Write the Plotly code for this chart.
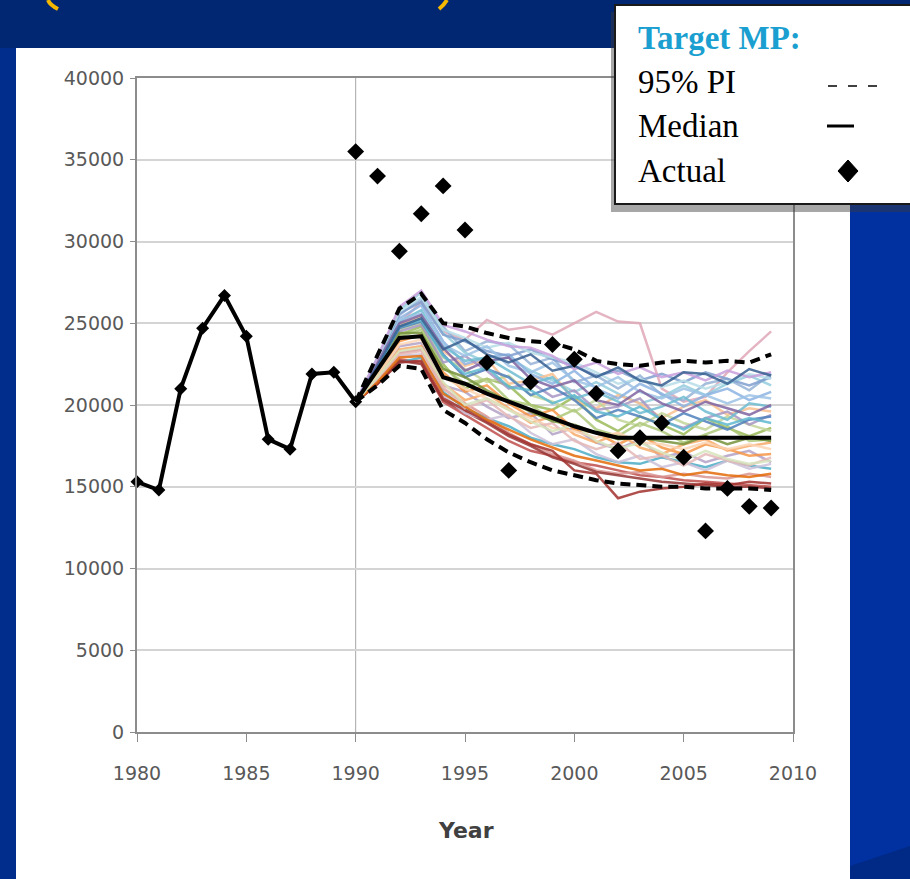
import plotly.graph_objects as go

# ---------------- data ----------------
hist_years = list(range(1980, 1991))
hist_values = [15300, 14800, 21000, 24700, 26700, 24200, 17900, 17300, 21900, 22000, 20200]

proj_years = list(range(1990, 2010))
actual_values = [35500, 34000, 29400, 31700, 33400, 30700, 22600, 16000, 21400, 23700,
                 22800, 20700, 17200, 18000, 18900, 16800, 12300, 14900, 13800, 13700]
median_values = [20200, 22200, 24100, 24200, 21700, 21300, 20700, 20200, 19700, 19200,
                 18700, 18300, 18000, 18000, 18000, 18000, 18000, 18000, 18000, 18000]
upper_pi = [20200, 23000, 25900, 26800, 25000, 24800, 24400, 24100, 23900, 23800,
            23400, 22700, 22500, 22400, 22600, 22700, 22600, 22700, 22600, 23100]
lower_pi = [20200, 21200, 22400, 22200, 19700, 18900, 17900, 17100, 16500, 16000,
            15700, 15400, 15200, 15100, 15000, 15000, 14900, 14900, 14900, 14800]

sim_1 = [20180, 22600, 25000, 26300, 24500, 24000, 25200, 24600, 24800, 24300, 25000, 25700, 25100, 25000, 21000, 20200, 20500, 22000, 23300, 24500]
sim_2 = [20180, 22500, 25500, 26500, 24800, 23300, 23900, 23700, 22500, 22900, 21400, 21800, 21000, 21800, 20600, 20300, 21300, 21600, 20900, 21900]
sim_3 = [20180, 21500, 22800, 22600, 20200, 19400, 18600, 17800, 17200, 16900, 16500, 16300, 16000, 15700, 15600, 15400, 15300, 15200, 15100, 15000]
sim_4 = [20180, 22000, 24300, 24800, 22500, 21000, 21600, 21200, 20000, 19700, 20500, 19100, 18400, 19300, 18800, 18200, 19200, 18600, 18100, 18600]
sim_5 = [20180, 21800, 23600, 23800, 21200, 20800, 19900, 19200, 19500, 18200, 18600, 17700, 17300, 17900, 16800, 17100, 16500, 16900, 17200, 16500]
sim_6 = [20180, 22900, 25800, 26900, 24400, 23200, 22600, 22900, 22100, 21500, 20800, 21400, 20700, 20100, 20500, 21200, 20600, 21300, 21800, 21200]
sim_7 = [20180, 22300, 24900, 25400, 23300, 22400, 22800, 21300, 21500, 21900, 20300, 19800, 20600, 20100, 19200, 19900, 20300, 19400, 19800, 19600]
sim_8 = [20180, 21400, 22600, 22900, 20800, 19800, 19200, 18700, 18000, 17600, 17300, 16800, 16500, 16400, 16800, 16500, 16200, 16600, 16300, 16100]
sim_9 = [20180, 22600, 25300, 26100, 23900, 22500, 22900, 23100, 21900, 21300, 22100, 21000, 20400, 21300, 20700, 19900, 20600, 21000, 20300, 20800]
sim_10 = [20180, 21900, 23900, 24300, 22000, 20800, 21200, 20100, 19300, 19700, 18500, 18300, 17600, 18200, 17400, 17000, 17600, 17300, 16900, 17000]
sim_11 = [20180, 22100, 24600, 25000, 22900, 22200, 21400, 21800, 20600, 20200, 19600, 20300, 19100, 18700, 19500, 18900, 18500, 19300, 18800, 18400]
sim_12 = [20180, 21600, 23200, 23400, 21000, 20100, 19300, 18300, 17600, 17000, 16600, 16000, 15800, 15900, 15600, 15800, 15600, 15500, 15800, 15600]
sim_13 = [20180, 22700, 25600, 26300, 24300, 23900, 23300, 23000, 23400, 22800, 22400, 21800, 22100, 21500, 21900, 21400, 22000, 21600, 21200, 21700]
sim_14 = [20180, 22200, 24500, 24900, 22600, 23000, 22100, 21000, 21400, 20500, 20900, 19700, 19900, 20400, 19000, 18600, 19200, 19600, 18800, 19400]
sim_15 = [20180, 21300, 22700, 22500, 20300, 19600, 18900, 18100, 17500, 16800, 16400, 15900, 15700, 15500, 15300, 15200, 15100, 15000, 15000, 14900]
sim_16 = [20180, 22400, 25100, 25800, 23600, 22700, 22900, 22100, 21300, 21700, 20400, 20800, 20200, 19500, 19900, 20500, 19600, 19100, 20100, 19900]
sim_17 = [20180, 21700, 23400, 23600, 21300, 20300, 20700, 19800, 18900, 19300, 18200, 17700, 18300, 17400, 17000, 17600, 17900, 17200, 17500, 17700]
sim_18 = [20180, 22000, 24200, 24600, 22300, 21300, 21600, 20300, 20000, 19100, 19700, 18500, 18100, 18900, 18400, 17700, 18200, 18700, 17800, 17900]
sim_19 = [20180, 21500, 23000, 23100, 20600, 19500, 19100, 19400, 18300, 17600, 17900, 17000, 16500, 16900, 16200, 16500, 16000, 16600, 16100, 16400]
sim_20 = [20180, 21300, 22600, 22700, 20400, 19700, 19000, 18200, 17600, 17200, 16000, 15800, 14300, 14700, 14900, 15000, 15200, 15100, 15300, 15200]
sim_21 = [20180, 22800, 25700, 26600, 24600, 24100, 23500, 23800, 23200, 22900, 22600, 22000, 21300, 21600, 21100, 21500, 21000, 21400, 21900, 21600]
sim_22 = [20180, 22300, 24700, 25100, 23100, 21700, 22200, 21700, 20600, 21100, 20300, 19200, 19700, 19300, 18800, 19500, 19000, 18500, 19100, 19300]
sim_23 = [20180, 21800, 23700, 24000, 21700, 21000, 20400, 19700, 19200, 18600, 18400, 18000, 18300, 17700, 17600, 17300, 17700, 17300, 17600, 17300]
sim_24 = [20180, 22500, 25200, 25600, 23700, 23000, 23600, 22400, 22000, 22600, 21500, 21100, 21700, 20800, 20400, 21000, 20600, 20100, 20600, 20400]
sim_25 = [20180, 21600, 23100, 23300, 21100, 19800, 20300, 19300, 18600, 18900, 17800, 17300, 17700, 16700, 16900, 16300, 17000, 16600, 16300, 16800]
sim_26 = [20180, 22600, 25000, 25500, 23500, 22100, 22700, 22900, 21600, 21100, 21500, 20300, 20000, 20900, 20100, 19600, 20200, 19800, 19400, 20000]
sim_27 = [20180, 22100, 24400, 24400, 22200, 21700, 20900, 20200, 19600, 19000, 18800, 18300, 17900, 18000, 17800, 17600, 18100, 17600, 18000, 17800]
sim_28 = [20180, 21400, 22900, 23000, 20700, 19900, 19100, 18500, 17900, 17400, 16900, 16600, 16300, 16000, 16100, 15700, 15900, 15700, 15600, 15800]
sim_29 = [20180, 22900, 26000, 27000, 24900, 24500, 24000, 23600, 23500, 23000, 22200, 22600, 21900, 22300, 21700, 22000, 21500, 22100, 21700, 22000]
sim_30 = [20180, 22200, 24800, 25200, 23000, 21900, 22300, 21100, 20900, 20100, 20600, 19600, 19300, 19900, 19100, 18500, 19200, 18800, 19200, 18900]
sim_31 = [20180, 21700, 23300, 23500, 21400, 20000, 20400, 19700, 19000, 18400, 18800, 17800, 17300, 17700, 17100, 16600, 17200, 16700, 16400, 16600]
sim_32 = [20180, 22400, 24800, 25300, 23400, 24000, 23100, 22600, 23100, 22100, 22400, 21700, 22300, 21500, 21200, 22000, 21900, 21300, 22200, 21800]

simulations = [sim_1, sim_2, sim_3, sim_4, sim_5, sim_6, sim_7, sim_8, sim_9, sim_10,
               sim_11, sim_12, sim_13, sim_14, sim_15, sim_16, sim_17, sim_18, sim_19, sim_20,
               sim_21, sim_22, sim_23, sim_24, sim_25, sim_26, sim_27, sim_28, sim_29, sim_30,
               sim_31, sim_32]

sim_colors = ["#e0a8b8", "#95b3d7", "#c0504d", "#9bbb59", "#b3a2c7", "#93cddd",
              "#fac090", "#4bacc6", "#8db3e2", "#f79646", "#c3d69b", "#d99694",
              "#7f9fcf", "#a796c4", "#953735", "#6fbdd1", "#f9ab6b", "#afc97a",
              "#ccc1da", "#a3322f", "#b7dee8", "#4f81bd", "#fcd5b5", "#9dc3e6",
              "#e6b9b8", "#8064a2", "#77933c", "#e46c0a", "#c9a0dc", "#5fb8cf",
              "#d7e4bd", "#376092"]

x_ticks = [1980, 1985, 1990, 1995, 2000, 2005, 2010]
y_ticks = [0, 5000, 10000, 15000, 20000, 25000, 30000, 35000, 40000]

# ---------------- figure ----------------
W, H = 910, 879
L, R, T, B = 137, 117, 78, 147
PW, PH = W - L - R, H - T - B


def px(xp):
    return (xp - L) / PW


def py(yp):
    return (H - B - yp) / PH


fig = go.Figure()

fig.add_trace(go.Scatter(x=hist_years, y=hist_values, mode="lines+markers",
                         line=dict(color="black", width=4),
                         marker=dict(symbol="diamond", size=10, color="black"),
                         cliponaxis=False, showlegend=False))

for vals, col in zip(simulations, sim_colors):
    fig.add_trace(go.Scatter(x=proj_years, y=vals, mode="lines",
                             line=dict(color=col, width=2.5), opacity=0.85,
                             showlegend=False))

fig.add_trace(go.Scatter(x=proj_years, y=upper_pi, mode="lines",
                         line=dict(color="black", width=4, dash="10px,6px"), showlegend=False))
fig.add_trace(go.Scatter(x=proj_years, y=lower_pi, mode="lines",
                         line=dict(color="black", width=4, dash="10px,6px"), showlegend=False))
fig.add_trace(go.Scatter(x=proj_years, y=median_values, mode="lines",
                         line=dict(color="black", width=4), showlegend=False))
fig.add_trace(go.Scatter(x=proj_years, y=actual_values, mode="markers",
                         marker=dict(symbol="diamond", size=13, color="black"),
                         cliponaxis=False, showlegend=False))

shapes = []
# slide background pieces
shapes.append(dict(type="rect", xref="paper", yref="paper", layer="below",
                   x0=px(0), x1=px(16), y0=py(879), y1=py(48),
                   fillcolor="#012d8c", line=dict(width=0)))
shapes.append(dict(type="rect", xref="paper", yref="paper", layer="below",
                   x0=px(850), x1=px(910), y0=py(879), y1=py(48),
                   fillcolor="#0131a0", line=dict(width=0)))
shapes.append(dict(type="path", xref="paper", yref="paper", layer="below",
                   path=f"M {px(850)},{py(879)} L {px(910)},{py(879)} L {px(910)},{py(846)} L {px(850)},{py(866)} Z",
                   fillcolor="#012a86", line=dict(width=0)))
# white panel
shapes.append(dict(type="rect", xref="paper", yref="paper", layer="below",
                   x0=px(16), x1=px(850), y0=py(879), y1=py(48),
                   fillcolor="white", line=dict(width=0)))
# yellow decorations at top
shapes.append(dict(type="path", xref="paper", yref="paper", layer="above",
                   path=f"M {px(48)},{py(0)} Q {px(50)},{py(5)} {px(58)},{py(9)}",
                   line=dict(color="#f5b800", width=4)))
shapes.append(dict(type="path", xref="paper", yref="paper", layer="above",
                   path=f"M {px(447)},{py(0)} Q {px(444)},{py(5)} {px(439)},{py(9)}",
                   line=dict(color="#f5b800", width=4)))
# vertical line at 1990
shapes.append(dict(type="line", xref="x", yref="paper", x0=1990, x1=1990, y0=0, y1=1,
                   layer="below", line=dict(color="#a6a6a6", width=1)))
# legend box shadow + box
shapes.append(dict(type="rect", xref="paper", yref="paper", layer="above",
                   x0=px(611), x1=px(915), y0=py(212), y1=py(12),
                   fillcolor="rgba(60,60,60,0.45)", line=dict(width=0)))
shapes.append(dict(type="rect", xref="paper", yref="paper", layer="above",
                   x0=px(615), x1=px(920), y0=py(204), y1=py(5),
                   fillcolor="white", line=dict(color="#1a1a1a", width=2)))
# legend symbols
for xa, xb in [(828, 837), (848, 857), (868, 877)]:
    shapes.append(dict(type="line", xref="paper", yref="paper", layer="above",
                       x0=px(xa), x1=px(xb), y0=py(86), y1=py(86),
                       line=dict(color="black", width=1.5)))
shapes.append(dict(type="line", xref="paper", yref="paper", layer="above",
                   x0=px(827), x1=px(854), y0=py(126), y1=py(126),
                   line=dict(color="black", width=3)))
shapes.append(dict(type="path", xref="paper", yref="paper", layer="above",
                   path=f"M {px(848)},{py(160)} L {px(858)},{py(171)} L {px(848)},{py(182)} L {px(838)},{py(171)} Z",
                   fillcolor="black", line=dict(color="black", width=1)))

ann = []
serif = "Liberation Serif"
ann.append(dict(text="<b>Target MP:</b>", x=px(636), y=py(38), xref="paper", yref="paper",
                xanchor="left", yanchor="middle", showarrow=False,
                font=dict(family=serif, size=33, color="#1a9fd0")))
for label, yy in [("95% PI", 82), ("Median", 126), ("Actual", 171)]:
    ann.append(dict(text=label, x=px(636), y=py(yy), xref="paper", yref="paper",
                    xanchor="left", yanchor="middle", showarrow=False,
                    font=dict(family=serif, size=33, color="black")))
ann.append(dict(text="<b>Year</b>", x=px(466), y=py(830), xref="paper", yref="paper",
                xanchor="center", yanchor="middle", showarrow=False,
                font=dict(family="DejaVu Sans", size=22, color="#404040")))

fig.update_layout(
    width=W, height=H,
    margin=dict(l=L, r=R, t=T, b=B, pad=0),
    paper_bgcolor="#012672",
    plot_bgcolor="white",
    shapes=shapes,
    annotations=ann,
    showlegend=False,
    xaxis=dict(range=[1980, 2010], tickvals=x_ticks, ticktext=[str(v) for v in x_ticks],
               showgrid=False, zeroline=False, showline=True, mirror=True,
               linecolor="#8c8c8c", linewidth=2, ticks="outside", ticklen=8,
               tickcolor="#8c8c8c", tickwidth=1, ticklabelstandoff=15,
               tickfont=dict(family="DejaVu Sans", size=19, color="#595959")),
    yaxis=dict(range=[0, 40000], tickvals=y_ticks, ticktext=[str(v) for v in y_ticks],
               showgrid=True, gridcolor="#d4d4d4", gridwidth=2, zeroline=False,
               showline=True, mirror=True, linecolor="#8c8c8c", linewidth=2,
               ticks="outside", ticklen=5, tickcolor="#8c8c8c", tickwidth=1,
               ticklabelstandoff=2,
               tickfont=dict(family="DejaVu Sans", size=19, color="#595959")),
)

fig.write_html("out.html", config={"displayModeBar": False},
               post_script="document.body.style.margin='0';")
